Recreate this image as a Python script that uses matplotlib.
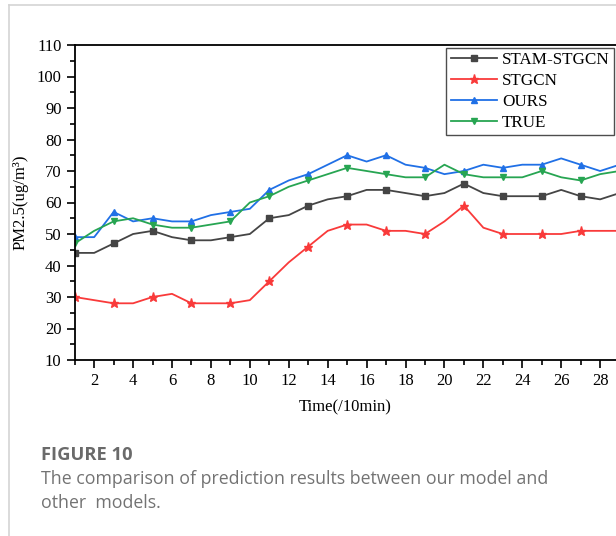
import matplotlib
matplotlib.use("Agg")
import matplotlib.pyplot as plt
from matplotlib.lines import Line2D
from matplotlib.ticker import MultipleLocator

# time steps (/10min)
time_steps = list(range(1, 30))

stam_stgcn = [44, 44, 47, 50, 51, 49, 48, 48, 49, 50, 55, 56, 59, 61, 62,
              64, 64, 63, 62, 63, 66, 63, 62, 62, 62, 64, 62, 61, 63]
stgcn = [30, 29, 28, 28, 30, 31, 28, 28, 28, 29, 35, 41, 46, 51, 53,
         53, 51, 51, 50, 54, 59, 52, 50, 50, 50, 50, 51, 51, 51]
ours = [49, 49, 57, 54, 55, 54, 54, 56, 57, 58, 64, 67, 69, 72, 75,
        73, 75, 72, 71, 69, 70, 72, 71, 72, 72, 74, 72, 70, 72]
true_vals = [47, 51, 54, 55, 53, 52, 52, 53, 54, 60, 62, 65, 67, 69, 71,
             70, 69, 68, 68, 72, 69, 68, 68, 68, 70, 68, 67, 69, 70]

series_names = ["STAM-STGCN", "STGCN", "OURS", "TRUE"]
series_values = [stam_stgcn, stgcn, ours, true_vals]

styles = [
    dict(color="#454545", marker="s", ms=4.5),
    dict(color="#f93a3a", marker="*", ms=6.5),
    dict(color="#2070e6", marker="^", ms=5),
    dict(color="#27a552", marker="v", ms=5),
]

W, H = 616, 536
fig = plt.figure(figsize=(W / 100, H / 100), dpi=100)

serif = ["Liberation Serif", "DejaVu Serif"]
sans = ["Open Sans", "Lato", "DejaVu Sans"]

# axes runs off the right edge of the picture, as in the cropped original
left_px, top_px, bottom_px = 74.7, 45, 360
ax = fig.add_axes([left_px / W, 1 - bottom_px / H,
                   1 - left_px / W, (bottom_px - top_px) / H])

for name, vals, st in zip(series_names, series_values, styles):
    ax.plot(time_steps, vals, color=st["color"], lw=1.3, marker=st["marker"],
            ms=st["ms"], markevery=2, label=name)

ax.set_xlim(1, 1 + (W - left_px) / 19.46)
ax.set_ylim(10, 110)
ax.xaxis.set_major_locator(MultipleLocator(2))
ax.xaxis.set_minor_locator(MultipleLocator(1))
ax.yaxis.set_major_locator(MultipleLocator(10))
ax.yaxis.set_minor_locator(MultipleLocator(5))
ax.tick_params(which="major", length=6, width=1.2, direction="out")
ax.tick_params(which="minor", length=3.5, width=1.2, direction="out")
ax.tick_params(labelsize=12)
for lab in ax.get_xticklabels() + ax.get_yticklabels():
    lab.set_family(serif)

for side in ["left", "top", "bottom"]:
    ax.spines[side].set_linewidth(1.3)
ax.spines["right"].set_visible(False)

ax.set_xlabel("Time(/10min)", family=serif, fontsize=12, labelpad=7)
ax.set_ylabel("PM2.5(ug/m³)", family=serif, fontsize=12, labelpad=6)

leg = ax.legend(loc="upper right", bbox_to_anchor=(614 / W, 1 - 48 / H),
                bbox_transform=fig.transFigure, borderaxespad=0,
                prop={"family": serif, "size": 12.3}, frameon=True, fancybox=False,
                handlelength=2.7, handletextpad=0.3, labelspacing=0.28,
                borderpad=0.25)
leg.get_frame().set_edgecolor("#222222")
leg.get_frame().set_linewidth(1.0)

# panel border of the page
fig.add_artist(Line2D([9 / W, 1], [1 - 5 / H, 1 - 5 / H], color="#d4d4d4", lw=1.2))
fig.add_artist(Line2D([9 / W, 9 / W], [0, 1 - 5 / H], color="#d4d4d4", lw=1.2))

fig.text(41 / W, 1 - 455 / H, "FIGURE 10", family=sans, fontsize=13.2,
         fontweight="bold", color="#6a6a6a", va="center")
fig.text(41 / W, 1 - 479 / H,
         "The comparison of prediction results between our model and",
         family=sans, fontsize=12.8, color="#737373", va="center")
fig.text(41 / W, 1 - 503 / H, "other  models.", family=sans, fontsize=12.8,
         color="#737373", va="center")

fig.savefig("out.png", dpi=100)
